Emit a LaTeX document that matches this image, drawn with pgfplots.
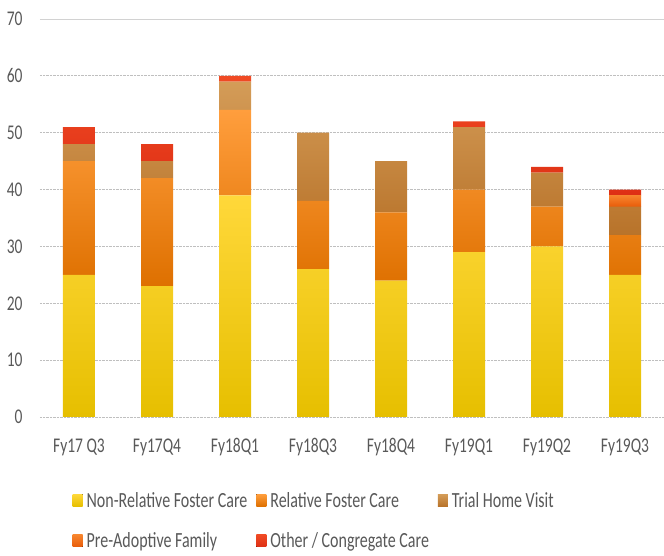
\documentclass[border=0pt]{standalone}
\usepackage{pgfplots}
\pgfplotsset{compat=1.18}
\usepackage{fontspec}
\setmainfont{Carlito}
\definecolor{txt}{HTML}{595959}
\definecolor{nrT}{HTML}{FFD83A}
\definecolor{nrM}{HTML}{FFD400}
\definecolor{nrB}{HTML}{E6BF00}
\definecolor{relT}{HTML}{FF9E3D}
\definecolor{relB}{HTML}{DE7000}
\definecolor{thvT}{HTML}{D49C58}
\definecolor{thvB}{HTML}{B8732A}
\definecolor{paT}{HTML}{F7852E}
\definecolor{paB}{HTML}{E85C0A}
\definecolor{othT}{HTML}{F04A24}
\definecolor{othB}{HTML}{DE3015}
\definecolor{grid}{HTML}{BFBFBF}
\newcommand{\tl}[1]{\scalebox{1}[1.35]{#1}}
\begin{document}
\begin{tikzpicture}
\path[use as bounding box] (-40pt,-139pt) rectangle (624pt,417pt);
\begin{axis}[
  scale only axis, width=624pt, height=398pt,
  ybar stacked, bar width=32pt,
  xmin=-0.5, xmax=7.5, ymin=0, ymax=70,
  xtick=data,
  xticklabels={\tl{Fy17 Q3},\tl{Fy17Q4},\tl{Fy18Q1},\tl{Fy18Q3},\tl{Fy18Q4},\tl{Fy19Q1},\tl{Fy19Q2},\tl{Fy19Q3}},
  ytick={0,10,...,60},
  extra y ticks={70},
  extra y tick style={grid style={grid!70, solid, line width=0.9pt}},
  yticklabel={\tl{\pgfmathprintnumber{\tick}}},
  xmajorgrids=false, ymajorgrids=true,
  grid style={grid, densely dotted, line width=0.8pt},
  axis line style={draw=none}, tick style={draw=none},
  every tick label/.append style={font=\fontsize{15.5}{18}\selectfont, text=txt},
  /pgf/number format/assume math mode=true,
  xticklabel style={yshift=-18pt},
  yticklabel style={xshift=-14pt},
  legend columns=3,
  legend cell align=left,
  legend style={draw=none, inner sep=0pt, at={(0.052,-0.183)}, anchor=north west,
    font=\fontsize{16}{18}\selectfont, text=txt,
    /tikz/every odd column/.append style={column sep=2pt},
    /tikz/every even column/.append style={column sep=7pt},
    row sep=20pt},
  legend image code/.code={\fill[#1] (0pt,-6pt) rectangle (10pt,6pt);},
]
\addplot[top color=nrT, middle color=nrM, bottom color=nrB, draw=none] coordinates {(0,25) (1,23) (2,39) (3,26) (4,24) (5,29) (6,30) (7,25)};
\addplot[top color=relT, bottom color=relB, draw=none] coordinates {(0,20) (1,19) (2,15) (3,12) (4,12) (5,11) (6,7) (7,7)};
\addplot[top color=thvT, bottom color=thvB, draw=none] coordinates {(0,3) (1,3) (2,5) (3,12) (4,9) (5,11) (6,6) (7,5)};
\addplot[top color=paT, bottom color=paB, draw=none] coordinates {(0,0) (1,0) (2,0) (3,0) (4,0) (5,0) (6,0) (7,2)};
\addplot[top color=othT, bottom color=othB, draw=none] coordinates {(0,3) (1,3) (2,1) (3,0) (4,0) (5,1) (6,1) (7,1)};
\legend{\tl{Non-Relative Foster Care},\tl{Relative Foster Care},\tl{Trial Home Visit},\tl{Pre-Adoptive Family},\tl{Other / Congregate Care}}
\end{axis}
\end{tikzpicture}
\end{document}
